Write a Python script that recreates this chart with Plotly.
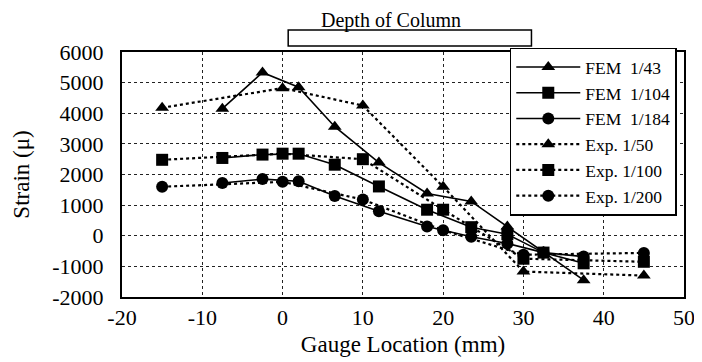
import plotly.graph_objects as go

# Gauge locations (mm)
fem_x = [-7.5, -2.5, 2, 6.5, 12, 18, 23.5, 28, 32.5, 37.5]
exp_x = [-15, 0, 10, 20, 30, 45]

# Strain values (micro-strain)
fem_1_43 = [4150, 5330, 4850, 3560, 2390, 1380, 1120, 300, -530, -1450]
fem_1_104 = [2540, 2650, 2680, 2320, 1610, 850, 280, 50, -550, -900]
fem_1_184 = [1720, 1850, 1780, 1300, 800, 300, -30, -250, -550, -680]

exp_1_50 = [4180, 4820, 4250, 1600, -1170, -1300]
exp_1_100 = [2480, 2680, 2500, 850, -750, -850]
exp_1_200 = [1600, 1760, 1180, 180, -620, -560]

x_ticks = [-20, -10, 0, 10, 20, 30, 40, 50]
x_labels = ["-20", "-10", "0", "10", "20", "30", "40", "50"]
y_ticks = [-2000, -1000, 0, 1000, 2000, 3000, 4000, 5000, 6000]
y_labels = ["-2000", "-1000", "0", "1000", "2000", "3000", "4000", "5000", "6000"]

FONT = "Liberation Serif"

series = [
    ("FEM  1/43", fem_x, fem_1_43, "triangle-up", "solid"),
    ("FEM  1/104", fem_x, fem_1_104, "square", "solid"),
    ("FEM  1/184", fem_x, fem_1_184, "circle", "solid"),
    ("Exp. 1/50", exp_x, exp_1_50, "triangle-up", "dot"),
    ("Exp. 1/100", exp_x, exp_1_100, "square", "dot"),
    ("Exp. 1/200", exp_x, exp_1_200, "circle", "dot"),
]

fig = go.Figure()
for name, xs, ys, sym, dash in series:
    fig.add_trace(go.Scatter(
        x=xs, y=ys, name=name, mode="lines+markers",
        line=dict(color="black", width=1.6 if dash == "solid" else 2.2, dash=dash),
        marker=dict(symbol=sym, size=12, color="black"),
    ))

fig.add_shape(type="rect", xref="x", yref="paper", x0=0.7, x1=31, y0=1.024, y1=1.09,
              line=dict(color="black", width=1.5), fillcolor="white")
fig.add_annotation(text="Depth of Column", xref="x", yref="paper", x=13.5, y=1.098,
                   yanchor="bottom", yshift=-6, showarrow=False,
                   font=dict(family=FONT, size=20, color="black"))

# page body adds an 8px offset; sizes compensate so the plot lands at the reference position
fig.update_layout(
    width=702, height=354,
    margin=dict(l=114, r=26, t=44, b=65, autoexpand=False),
    paper_bgcolor="white", plot_bgcolor="white",
    font=dict(family=FONT, color="black"),
    showlegend=True,
    legend=dict(
        x=0.69, y=1.018, xanchor="left", yanchor="top",
        bgcolor="white", bordercolor="black", borderwidth=1.5,
        font=dict(family=FONT, size=17.5, color="black"),
        itemwidth=64, tracegroupgap=0,
    ),
    xaxis=dict(
        range=[-20, 50], tickvals=x_ticks, ticktext=x_labels, ticks="",
        showgrid=True, gridcolor="#222", griddash="dot", gridwidth=1,
        showline=True, linecolor="black", linewidth=2, mirror=True,
        zeroline=False, tickfont=dict(family=FONT, size=22, color="black"),
        title=dict(text="Gauge Location (mm)",
                   font=dict(family=FONT, size=23, color="black"), standoff=6),
    ),
    yaxis=dict(
        range=[-2000, 6000], tickvals=y_ticks, ticktext=y_labels, ticks="",
        showgrid=True, gridcolor="#222", griddash="dot", gridwidth=1,
        showline=True, linecolor="black", linewidth=2, mirror=True,
        zeroline=False, tickfont=dict(family=FONT, size=22, color="black"),
        ticklabelstandoff=12,
        title=dict(text="Strain (\u03bc)",
                   font=dict(family=FONT, size=23, color="black"), standoff=16),
    ),
)

fig.write_html("out.html")
